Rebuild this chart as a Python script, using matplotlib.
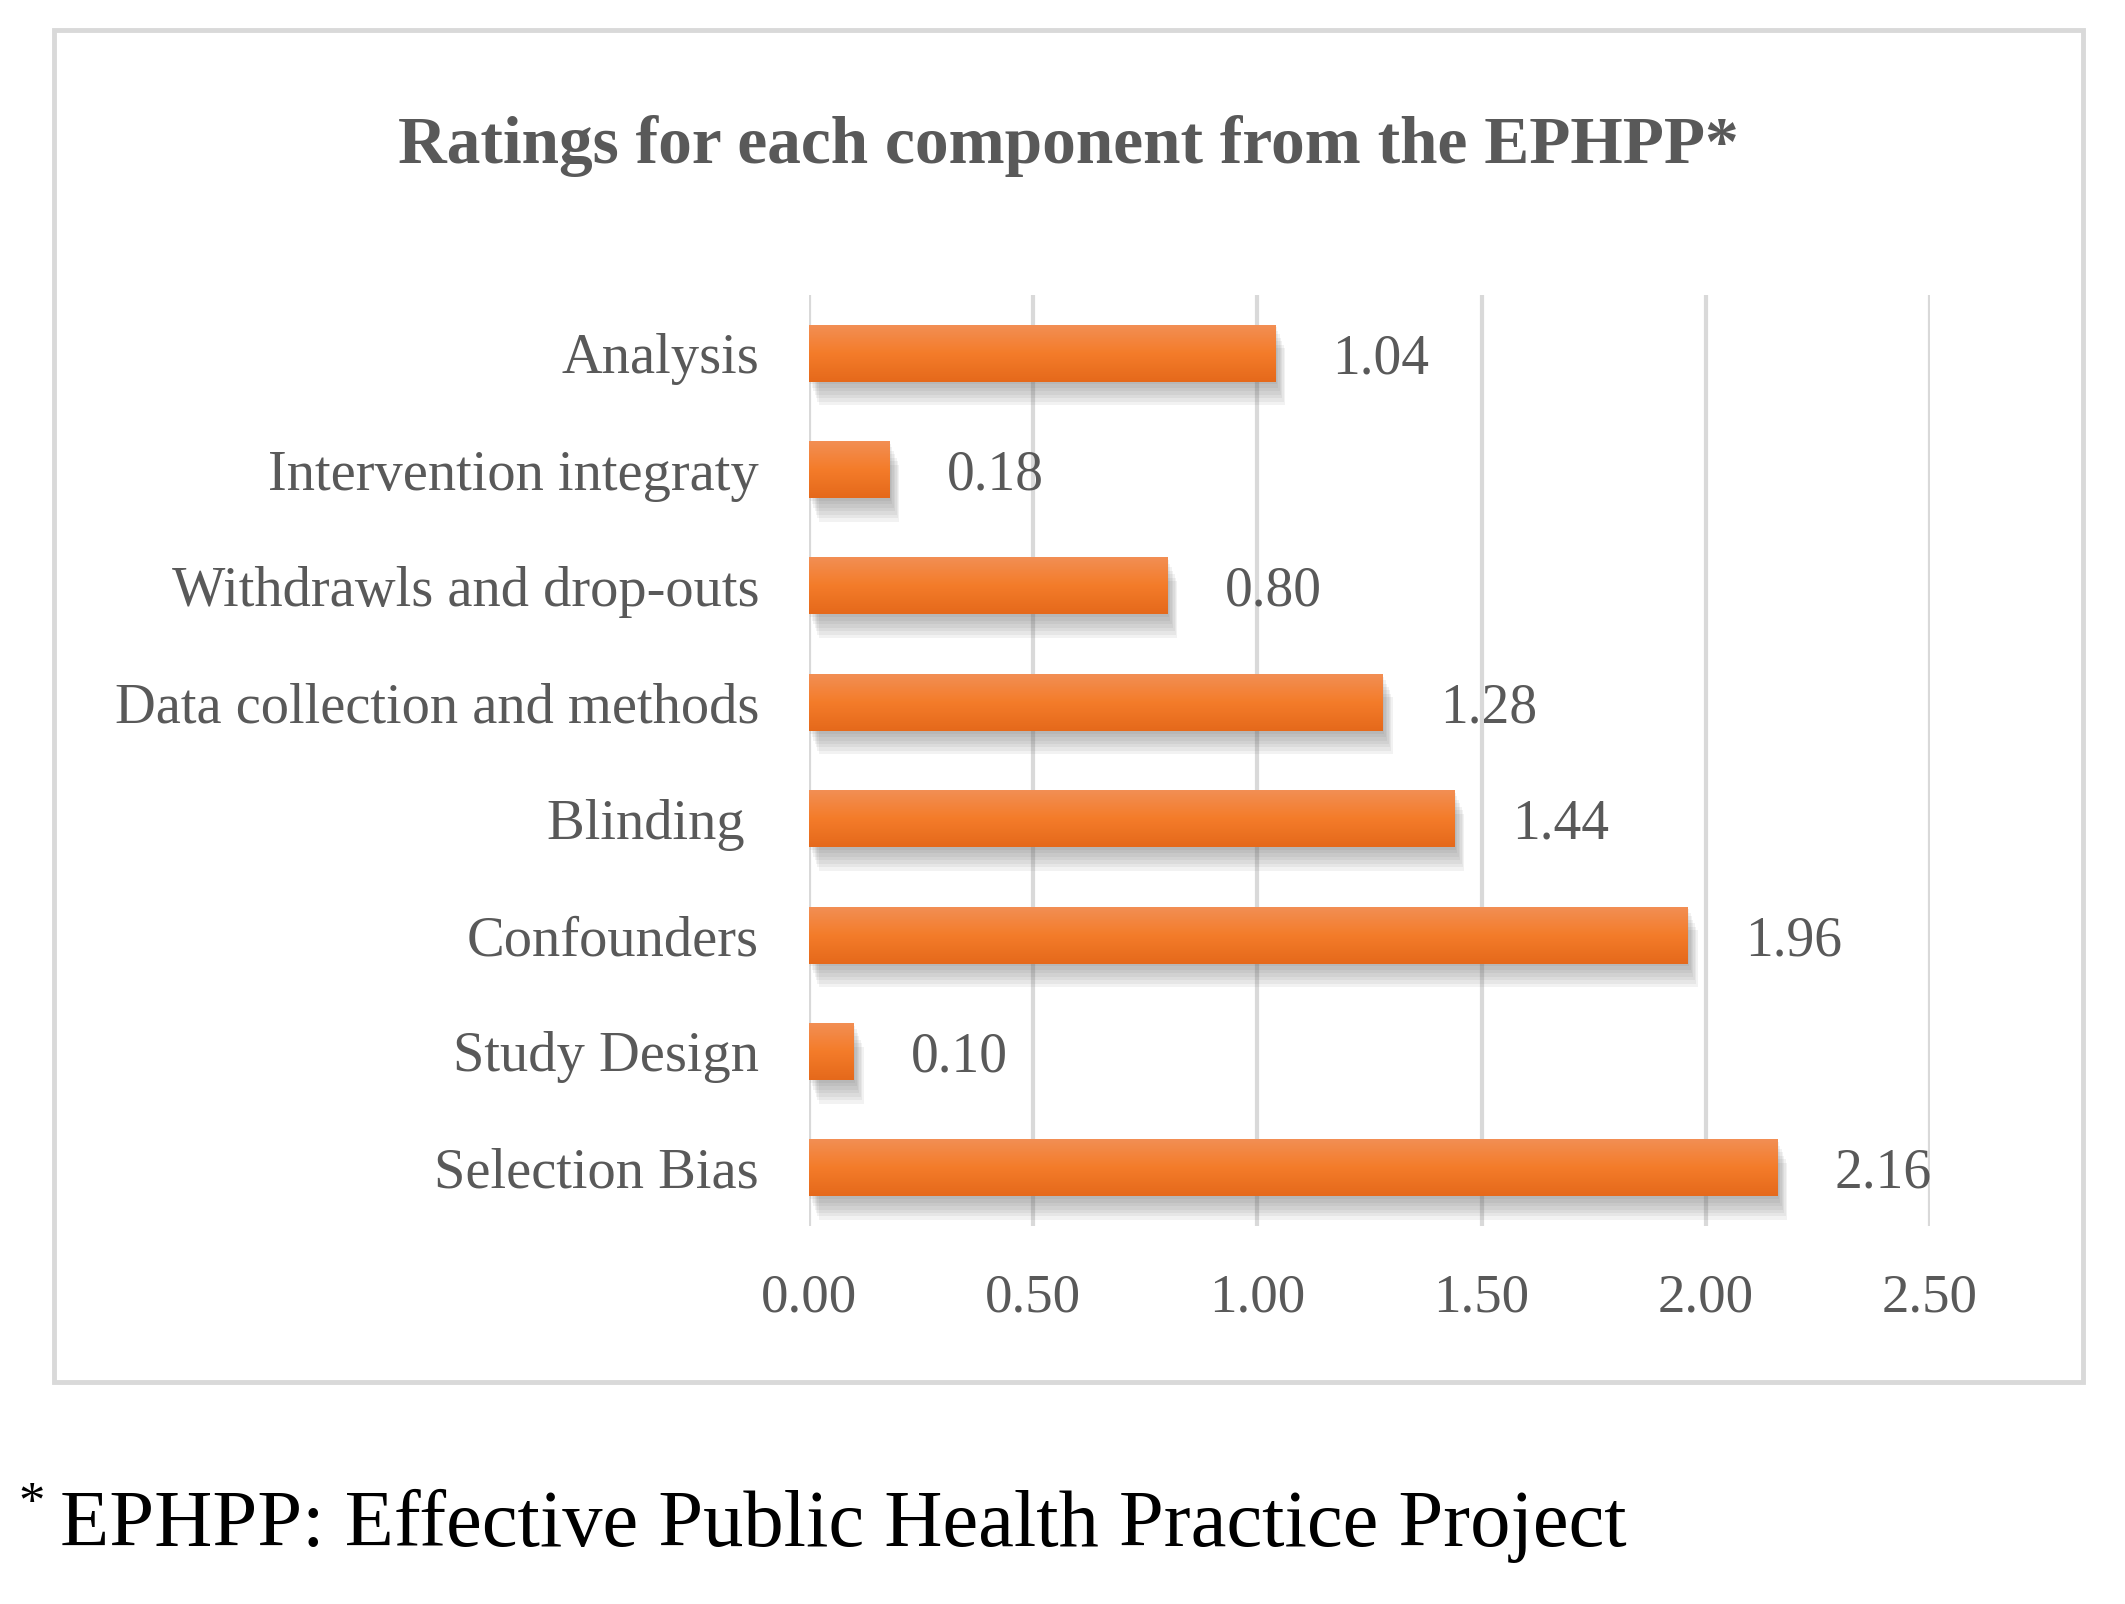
import matplotlib
matplotlib.use("Agg")
import matplotlib.pyplot as plt
import matplotlib.patheffects as pe
from matplotlib.patches import Rectangle
from matplotlib.colors import LinearSegmentedColormap
import numpy as np

categories = ["Selection Bias", "Study Design", "Confounders", "Blinding ",
              "Data collection and methods", "Withdrawls and drop-outs",
              "Intervention integraty", "Analysis"]
values = [2.16, 0.10, 1.96, 1.44, 1.28, 0.80, 0.18, 1.04]
xticks = [0.0, 0.5, 1.0, 1.5, 2.0, 2.5]
title = "Ratings for each component from the EPHPP*"
footnote = "EPHPP: Effective Public Health Practice Project"

W, H = 2125, 1604
fig = plt.figure(figsize=(W / 100, H / 100), dpi=100)
fig.patch.set_facecolor("white")

grey_txt = "#595959"
grid_c = "#D9D9D9"
serif = ["Liberation Serif", "DejaVu Serif"]

# outer frame
fig.patches.append(Rectangle((54 / W, 1 - 1382 / H), (2083 - 54) / W, (1382 - 30) / H,
                             transform=fig.transFigure, fill=False,
                             edgecolor=grid_c, linewidth=3.5))

ax = fig.add_axes([809 / W, 1 - 1226 / H, (1930 - 809) / W, (1226 - 295) / H])
ax.set_xlim(0, 2.5)
ax.set_ylim(-0.5, len(categories) - 0.5)
for s in ax.spines.values():
    s.set_visible(False)
ax.set_xticks(xticks)
ax.set_xticklabels([f"{t:.2f}" for t in xticks])
ax.set_yticks(range(len(categories)))
ax.set_yticklabels(categories)
ax.tick_params(axis="both", length=0, colors=grey_txt)
ax.tick_params(axis="x", pad=34, labelsize=39.5)
ax.tick_params(axis="y", pad=36, labelsize=40.7)
for lab in ax.get_xticklabels() + ax.get_yticklabels():
    lab.set_family(serif)
ax.grid(axis="x", color=grid_c, linewidth=3, zorder=0)
ax.set_axisbelow(True)

cmap = LinearSegmentedColormap.from_list("og", ["#E5691B", "#F47C2A", "#F28F55"])
shadows = [pe.SimplePatchShadow(offset=(1 + k, -2 - 2.5 * k), shadow_rgbFace="#606060", alpha=0.08)
           for k in range(7)]
bars = ax.barh(range(len(categories)), values, height=0.49, color="#F07A2C",
               zorder=3, path_effects=shadows + [pe.Normal()])
grad = np.linspace(0, 1, 64).reshape(-1, 1)
for b in bars:
    x0, y0, w, h = b.get_x(), b.get_y(), b.get_width(), b.get_height()
    im = ax.imshow(grad, extent=(x0, x0 + w, y0, y0 + h), origin="lower",
                   cmap=cmap, aspect="auto", zorder=4)
    im.set_clip_path(b)
ax.set_xlim(0, 2.5)
ax.set_ylim(-0.5, len(categories) - 0.5)

for i, v in enumerate(values):
    ax.annotate(f"{v:.2f}", (v, i), xytext=(41, 0), textcoords="offset points",
                ha="left", va="center_baseline", fontsize=40, color=grey_txt, family=serif)

fig.text(1068 / W, 1 - 146 / H, title, ha="center", va="center", fontsize=48.5,
         fontweight="bold", color=grey_txt, family=serif)

fig.text(18 / W, 1 - 1505 / H, "*", ha="left", va="center", fontsize=38,
         color="black", family=serif)
fig.text(60 / W, 1 - 1526 / H, footnote, ha="left", va="center", fontsize=58,
         color="black", family=serif)

fig.savefig("out.png", dpi=100, facecolor="white")
